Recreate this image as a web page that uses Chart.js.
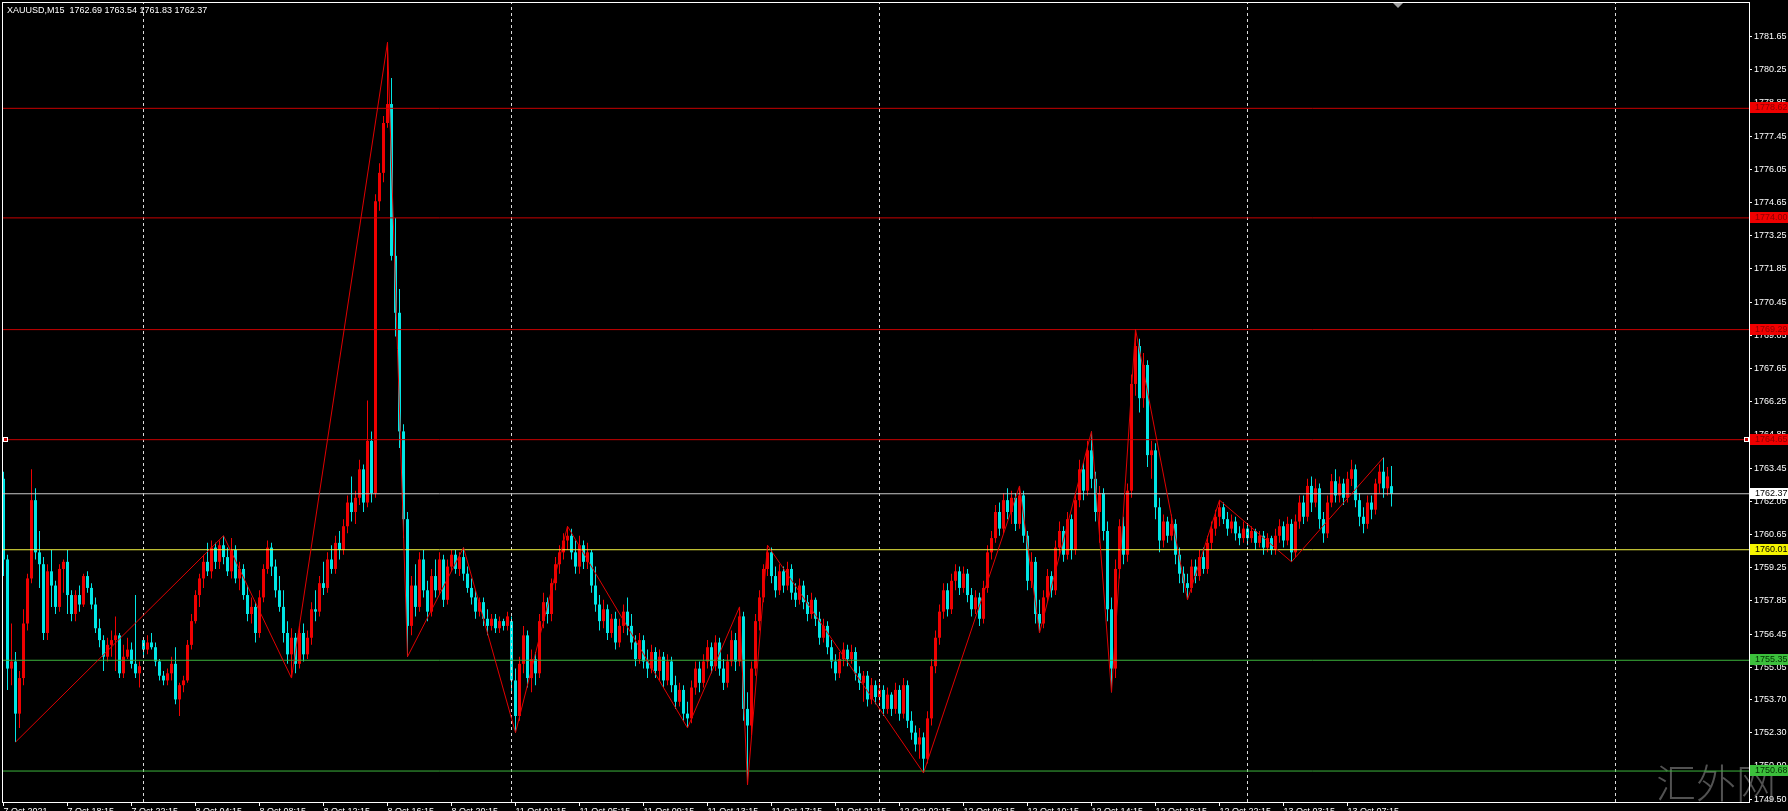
<!DOCTYPE html>
<html><head><meta charset="utf-8">
<style>html,body{margin:0;padding:0;background:#000;overflow:hidden}canvas{display:block}</style>
<script src="https://cdn.jsdelivr.net/npm/chart.js@4.4.1/dist/chart.umd.min.js"></script>
</head><body>
<canvas id="c" width="1788" height="811" style="width:1788px;height:811px"></canvas>
<script>
const symbolTitle = "XAUUSD,M15  1762.69 1763.54 1761.83 1762.37";

const opens = [
1763.0,1759.6,1755.0,1755.3,1753.1,1754.6,1756.9,1758.8,1762.1,1759.9,
1759.4,1756.5,1759.1,1758.5,1757.6,1759.2,1759.5,1758.1,1757.3,1758.1,
1757.7,1758.9,1758.4,1757.7,1756.7,1756.2,1755.5,1756.0,1756.2,1756.4,
1754.8,1755.5,1755.8,1755.2,1754.8,1756.2,1755.8,1756.1,1755.9,1755.3,
1754.7,1754.5,1754.8,1755.2,1753.7,1754.3,1754.5,1756.0,1757.0,1758.1,
1758.8,1759.5,1759.1,1760.1,1759.5,1760.2,1759.7,1759.1,1760.0,1758.8,
1759.2,1758.1,1757.3,1757.6,1756.5,1758.0,1759.2,1760.1,1759.3,1758.3,
1757.6,1756.5,1755.6,1756.3,1755.2,1756.5,1755.6,1756.3,1757.5,1757.4,
1758.6,1758.4,1759.6,1759.2,1760.3,1760.0,1761.0,1762.0,1761.6,1762.2,
1763.4,1762.0,1764.6,1762.4,1774.7,1775.9,1778.0,1778.8,1772.4,1770.0,
1765.0,1761.3,1756.8,1758.5,1757.6,1759.6,1758.3,1757.4,1758.9,1758.3,
1759.6,1757.9,1759.3,1759.8,1759.2,1759.7,1759.0,1758.4,1758.0,1757.4,
1757.8,1757.1,1756.8,1757.1,1756.7,1757.0,1756.8,1757.0,1754.5,1753.0,
1755.2,1756.4,1754.6,1755.4,1754.8,1757.0,1757.8,1757.3,1758.6,1759.4,
1759.9,1760.4,1760.6,1759.9,1759.3,1760.2,1759.5,1759.9,1758.5,1757.7,
1757.0,1757.5,1756.5,1757.1,1756.1,1756.8,1757.4,1756.8,1756.1,1755.4,
1756.2,1755.3,1755.0,1755.7,1754.9,1755.5,1754.5,1755.3,1754.3,1753.6,
1754.1,1753.1,1752.9,1754.2,1755.0,1754.4,1755.3,1755.9,1755.1,1756.1,
1755.0,1754.4,1755.3,1756.2,1755.3,1757.2,1753.3,1752.6,1755.0,1757.0,
1758.0,1759.2,1759.9,1758.9,1758.3,1759.1,1758.5,1759.2,1758.2,1757.9,
1758.5,1757.8,1757.3,1757.9,1757.1,1756.3,1756.8,1755.9,1755.3,1754.8,
1755.4,1755.8,1755.4,1755.7,1754.8,1754.4,1754.7,1753.7,1754.3,1753.8,
1754.1,1753.3,1753.9,1753.3,1754.1,1753.1,1754.3,1752.8,1752.3,1751.8,
1752.1,1751.2,1752.9,1755.1,1756.3,1757.4,1758.3,1757.5,1758.7,1759.1,
1758.4,1759.0,1758.1,1757.5,1758.0,1757.1,1758.4,1759.9,1760.5,1761.6,
1760.9,1762.1,1761.6,1762.2,1761.1,1762.3,1760.6,1758.7,1759.5,1757.3,
1756.9,1758.0,1758.9,1758.3,1760.1,1760.8,1759.8,1761.3,1760.0,1762.1,
1763.4,1762.5,1764.2,1763.0,1761.6,1762.4,1760.8,1757.5,1755.0,1759.2,
1761.0,1759.8,1762.5,1767.0,1768.6,1766.4,1767.8,1764.0,1764.2,1761.8,
1760.4,1761.2,1760.6,1761.1,1759.8,1759.0,1758.6,1758.4,1759.3,1758.9,
1759.7,1759.2,1760.3,1760.9,1761.4,1761.8,1761.3,1760.9,1761.2,1760.7,
1760.5,1760.9,1760.5,1760.8,1760.3,1760.6,1760.1,1760.5,1760.0,1760.6,
1761.0,1760.4,1761.1,1759.9,1761.2,1762.0,1761.4,1762.7,1762.0,1762.6,
1761.3,1760.7,1762.0,1762.9,1762.3,1762.8,1762.2,1763.0,1763.4,1762.1,
1761.4,1761.1,1762.0,1761.7,1762.8,1763.3,1762.6,1762.69];

const highs = [
1763.3,1759.8,1756.9,1755.7,1754.9,1757.5,1759.0,1763.4,1762.6,1760.8,
1759.7,1759.4,1760.0,1758.7,1759.4,1759.6,1760.0,1758.3,1758.3,1758.5,
1759.0,1759.1,1758.6,1758.0,1757.1,1756.4,1756.3,1756.6,1757.2,1756.5,
1756.0,1756.3,1756.1,1758.1,1755.3,1756.3,1756.4,1756.5,1756.1,1755.4,
1754.9,1755.0,1755.5,1755.9,1754.4,1754.7,1756.2,1757.3,1758.3,1759.0,
1759.8,1760.3,1760.4,1760.3,1760.4,1760.6,1760.1,1760.5,1760.2,1759.5,
1759.4,1758.5,1758.0,1757.8,1758.3,1759.4,1760.4,1760.3,1759.6,1758.9,
1758.3,1757.0,1756.7,1756.5,1756.8,1756.9,1756.6,1757.8,1758.3,1758.9,
1759.5,1759.9,1760.2,1760.6,1760.8,1761.3,1762.3,1763.1,1762.5,1763.8,
1763.6,1766.3,1765.0,1775.0,1776.3,1778.3,1781.4,1779.9,1774.0,1771.0,
1765.3,1761.6,1758.9,1759.4,1759.9,1760.0,1758.7,1759.2,1759.6,1759.9,
1759.8,1759.6,1760.0,1760.0,1759.9,1760.1,1759.3,1758.8,1758.3,1758.0,
1758.0,1757.5,1757.3,1757.3,1757.2,1757.1,1757.4,1757.2,1755.0,1755.5,
1756.8,1756.6,1755.8,1755.7,1757.3,1758.2,1758.0,1758.8,1759.7,1760.2,
1760.7,1761.0,1760.9,1760.4,1760.6,1760.4,1760.3,1760.0,1759.3,1758.1,
1757.9,1757.7,1757.3,1757.4,1757.1,1757.7,1758.0,1757.3,1756.4,1756.5,
1756.4,1755.8,1756.0,1755.9,1755.8,1755.7,1755.6,1755.5,1754.7,1754.4,
1754.3,1753.6,1754.5,1755.3,1755.3,1755.6,1756.2,1756.1,1756.4,1756.3,
1755.4,1755.6,1756.6,1756.5,1757.6,1757.4,1754.0,1755.3,1757.3,1758.3,
1759.4,1760.2,1760.1,1759.3,1759.4,1759.3,1759.5,1759.4,1758.6,1758.8,
1758.7,1758.1,1758.2,1758.0,1757.4,1757.1,1757.0,1756.2,1755.6,1755.7,
1756.1,1756.0,1756.0,1755.9,1755.1,1754.9,1754.9,1754.6,1754.5,1754.4,
1754.3,1754.2,1754.0,1754.4,1754.3,1754.6,1754.5,1753.2,1752.6,1752.5,
1752.3,1753.2,1755.4,1756.6,1757.7,1758.6,1758.6,1759.0,1759.4,1759.3,
1759.3,1759.2,1758.4,1758.3,1758.2,1758.7,1760.2,1760.8,1761.9,1762.0,
1762.4,1762.6,1762.5,1762.4,1762.7,1762.5,1760.8,1759.9,1759.7,1757.9,
1758.3,1759.2,1759.1,1760.4,1761.2,1761.0,1761.6,1761.5,1762.4,1763.8,
1763.7,1764.6,1765.0,1763.3,1762.7,1762.6,1761.2,1758.0,1759.6,1761.3,
1761.4,1762.8,1767.4,1769.3,1768.9,1768.3,1768.0,1764.6,1764.5,1762.2,
1761.5,1761.4,1761.5,1761.3,1760.1,1759.3,1759.0,1759.6,1759.6,1760.0,
1760.1,1760.6,1761.2,1761.7,1762.1,1762.0,1761.6,1761.5,1761.4,1761.0,
1761.2,1761.1,1761.0,1760.9,1760.8,1760.8,1760.7,1760.6,1760.9,1761.3,
1761.2,1761.4,1761.3,1761.5,1762.3,1762.3,1763.0,1763.1,1763.0,1762.8,
1761.6,1762.3,1763.2,1763.4,1763.1,1763.0,1763.3,1763.8,1763.6,1762.4,
1761.8,1762.3,1762.3,1763.0,1763.6,1763.9,1763.5,1763.54];

const lows = [
1758.9,1754.1,1754.3,1751.9,1752.5,1754.3,1756.6,1758.6,1759.6,1758.4,
1756.2,1756.2,1757.6,1757.3,1757.4,1758.2,1757.3,1757.0,1757.0,1757.4,
1757.6,1758.2,1757.5,1756.5,1755.9,1754.9,1755.3,1755.5,1754.9,1754.6,
1754.6,1755.4,1755.0,1754.6,1754.2,1755.5,1755.6,1755.8,1755.1,1754.5,
1754.3,1754.3,1754.5,1753.5,1753.0,1754.0,1754.4,1755.8,1756.9,1757.6,
1758.4,1758.9,1758.8,1759.2,1759.2,1759.4,1758.9,1758.8,1758.6,1758.3,
1757.9,1757.0,1756.9,1756.1,1756.3,1757.8,1759.0,1758.9,1758.0,1757.4,
1756.1,1755.2,1754.6,1754.8,1755.0,1755.3,1755.4,1756.0,1757.0,1757.2,
1758.1,1758.2,1759.0,1759.0,1759.6,1759.8,1760.7,1761.2,1761.1,1761.9,
1761.6,1761.8,1762.0,1762.2,1774.3,1775.5,1777.8,1772.2,1769.0,1764.3,
1760.5,1755.5,1756.4,1757.2,1757.4,1758.0,1757.0,1757.2,1758.0,1758.1,
1757.6,1757.7,1759.1,1759.0,1758.9,1758.7,1758.2,1757.7,1757.1,1757.2,
1756.8,1756.4,1756.6,1756.5,1756.5,1756.6,1756.6,1754.0,1752.3,1752.8,
1754.8,1754.2,1754.0,1754.3,1754.6,1756.7,1756.9,1757.0,1758.3,1759.0,
1759.6,1760.0,1759.6,1759.0,1759.0,1759.2,1759.2,1758.2,1757.4,1756.6,
1756.7,1756.2,1756.3,1755.8,1755.9,1756.5,1756.4,1755.8,1755.1,1755.2,
1755.0,1754.6,1754.8,1754.6,1754.5,1754.2,1754.3,1754.0,1753.3,1753.4,
1752.8,1752.5,1752.7,1753.9,1754.0,1754.2,1755.0,1754.8,1754.9,1754.7,
1754.1,1754.2,1755.1,1754.9,1755.1,1752.8,1750.1,1752.2,1754.7,1756.6,
1757.8,1758.9,1758.6,1758.0,1758.1,1758.2,1758.3,1757.9,1757.6,1757.7,
1757.5,1757.0,1757.1,1756.8,1756.0,1756.1,1755.6,1755.0,1754.5,1754.6,
1755.1,1755.1,1755.2,1754.5,1754.1,1753.6,1753.4,1753.5,1753.5,1753.5,
1753.0,1753.1,1753.0,1753.1,1752.8,1752.9,1752.5,1752.0,1751.5,1751.2,
1750.6,1751.0,1752.6,1754.8,1756.0,1757.1,1757.2,1757.3,1758.3,1758.1,
1758.2,1757.8,1757.2,1757.3,1756.8,1756.9,1758.2,1759.6,1760.3,1760.6,
1760.7,1761.3,1761.1,1760.8,1760.9,1760.3,1758.3,1758.4,1756.9,1756.5,
1756.7,1757.8,1758.0,1758.1,1759.8,1759.5,1759.6,1759.6,1759.8,1761.8,
1762.1,1762.3,1762.6,1761.2,1760.3,1760.4,1757.0,1754.0,1754.6,1758.8,
1759.4,1759.5,1762.2,1766.5,1765.8,1766.0,1763.5,1763.0,1761.3,1759.9,
1760.1,1760.3,1760.4,1759.4,1758.6,1758.2,1757.9,1758.2,1758.6,1758.7,
1759.0,1759.0,1760.0,1760.6,1761.0,1761.1,1760.6,1760.7,1760.4,1760.2,
1760.3,1760.2,1760.3,1760.0,1760.1,1759.8,1759.9,1759.8,1759.8,1760.3,
1760.1,1760.2,1759.5,1759.7,1760.9,1761.1,1761.2,1761.6,1761.8,1760.9,
1760.3,1760.5,1761.8,1762.0,1762.0,1761.9,1762.0,1762.7,1761.8,1761.0,
1760.7,1760.9,1761.3,1761.5,1762.4,1762.2,1762.3,1761.83];

const closes = [
1759.6,1755.0,1755.3,1753.1,1754.6,1756.9,1758.8,1762.1,1759.9,1759.4,
1756.5,1759.1,1758.5,1757.6,1759.2,1759.5,1758.1,1757.3,1758.1,1757.7,
1758.9,1758.4,1757.7,1756.7,1756.2,1755.5,1756.0,1756.2,1756.4,1754.8,
1755.5,1755.8,1755.2,1754.8,1755.1,1755.8,1756.1,1755.9,1755.3,1754.7,
1754.5,1754.8,1755.2,1753.7,1754.3,1754.5,1756.0,1757.0,1758.1,1758.8,
1759.5,1759.1,1760.1,1759.5,1760.2,1759.7,1759.1,1760.0,1758.8,1759.2,
1758.1,1757.3,1757.6,1756.5,1758.0,1759.2,1760.1,1759.3,1758.3,1757.6,
1756.5,1755.6,1756.3,1755.2,1756.5,1755.6,1756.3,1757.5,1757.4,1758.6,
1758.4,1759.6,1759.2,1760.3,1760.0,1761.0,1762.0,1761.6,1762.2,1763.4,
1762.0,1764.6,1762.4,1774.7,1775.9,1778.0,1778.8,1772.4,1770.0,1765.0,
1761.3,1756.8,1758.5,1757.6,1759.6,1758.3,1757.4,1758.9,1758.3,1759.6,
1757.9,1759.3,1759.8,1759.2,1759.7,1759.0,1758.4,1758.0,1757.4,1757.8,
1757.1,1756.8,1757.1,1756.7,1757.0,1756.8,1757.2,1754.5,1753.0,1755.2,
1756.4,1754.6,1755.4,1754.8,1757.0,1757.8,1757.3,1758.6,1759.4,1759.9,
1760.4,1760.6,1759.9,1759.3,1760.2,1759.5,1759.9,1758.5,1757.7,1757.0,
1757.5,1756.5,1757.1,1756.1,1756.8,1757.4,1756.8,1756.1,1755.4,1756.2,
1755.3,1755.0,1755.7,1754.9,1755.5,1754.5,1755.3,1754.3,1753.6,1754.1,
1753.1,1752.9,1754.2,1755.0,1754.4,1755.3,1755.9,1755.1,1756.1,1755.0,
1754.4,1755.3,1756.2,1755.3,1757.2,1753.3,1752.6,1755.0,1757.0,1758.0,
1759.2,1759.9,1758.9,1758.3,1759.1,1758.5,1759.2,1758.2,1757.9,1758.5,
1757.8,1757.3,1757.9,1757.1,1756.3,1756.8,1755.9,1755.3,1754.8,1755.4,
1755.8,1755.4,1755.7,1754.8,1754.4,1754.7,1753.7,1754.3,1753.8,1754.1,
1753.3,1753.9,1753.3,1754.1,1753.1,1754.3,1752.8,1752.3,1751.8,1752.1,
1751.2,1752.9,1755.1,1756.3,1757.4,1758.3,1757.5,1758.7,1759.1,1758.4,
1759.0,1758.1,1757.5,1758.0,1757.1,1758.4,1759.9,1760.5,1761.6,1760.9,
1762.1,1761.6,1762.2,1761.1,1762.3,1760.6,1758.7,1759.5,1757.3,1756.9,
1758.0,1758.9,1758.3,1760.1,1760.8,1759.8,1761.3,1760.0,1762.1,1763.4,
1762.5,1764.2,1763.0,1761.6,1762.4,1760.8,1757.5,1755.0,1759.2,1761.0,
1759.8,1762.5,1767.0,1768.6,1766.4,1767.8,1764.0,1764.2,1761.8,1760.4,
1761.2,1760.6,1761.1,1759.8,1759.0,1758.6,1758.4,1759.3,1758.9,1759.7,
1759.2,1760.3,1760.9,1761.4,1761.8,1761.3,1760.9,1761.2,1760.7,1760.5,
1760.9,1760.5,1760.8,1760.3,1760.6,1760.1,1760.5,1760.0,1760.6,1761.0,
1760.4,1761.1,1759.9,1761.2,1762.0,1761.4,1762.7,1762.0,1762.6,1761.3,
1760.7,1762.0,1762.9,1762.3,1762.8,1762.2,1763.0,1763.4,1762.1,1761.4,
1761.1,1762.0,1761.7,1762.8,1763.3,1762.6,1763.1,1762.37];

const timeTickBars = [0,16,32,48,64,80,96,112,128,144,160,176,192,208,224,240,256,272,288,304,320,336];
const timeTickLabels = ["7 Oct 2021","7 Oct 18:15","7 Oct 22:15","8 Oct 04:15","8 Oct 08:15","8 Oct 12:15","8 Oct 16:15","8 Oct 20:15","11 Oct 01:15","11 Oct 05:15","11 Oct 09:15","11 Oct 13:15","11 Oct 17:15","11 Oct 21:15","12 Oct 02:15","12 Oct 06:15","12 Oct 10:15","12 Oct 14:15","12 Oct 18:15","12 Oct 22:15","13 Oct 03:15","13 Oct 07:15"];

const priceTicks = [1781.65,1780.25,1778.85,1777.45,1776.05,1774.65,1773.25,1771.85,1770.45,1769.05,1767.65,1766.25,1764.85,1763.45,1762.05,1760.65,1759.25,1757.85,1756.45,1755.05,1753.70,1752.30,1750.90,1749.50];

const separatorBars = [35,127,219,311,403];

const levelPrices = [1778.62,1774.00,1769.29,1764.65,1762.37,1760.01,1755.35,1750.68];
const levelKinds  = ["red","red","red","red","bid","yellow","green","green"];

const zigzagBars   = [3,55,72,96,101,115,128,141,171,184,186,191,230,254,259,272,277,283,296,304,322,345];
const zigzagPrices = [1751.9,1760.6,1754.6,1781.4,1755.5,1760.1,1752.3,1761.0,1752.5,1757.6,1750.1,1760.2,1750.6,1762.7,1756.5,1765.0,1754.0,1769.3,1757.9,1762.1,1759.5,1763.9];

const watermarkText = "汇外网";

/* ---------- styling ---------- */
const UP = '#f00000', DOWN = '#00e6e6';
const LEVEL_STYLE = {
  red:    {line:'#c80000', box:'#f00000', text:'#8a0000'},
  bid:    {line:'#c8c8c8', box:'#ffffff', text:'#000000'},
  yellow: {line:'#f4f442', box:'#f4f400', text:'#000000'},
  green:  {line:'#3cb43c', box:'#3cc03c', text:'#003000'}
};
const FONT = '"Liberation Sans", Arial, sans-serif';
const X_MIN = -0.125, X_MAX = 436.375;
const Y_MIN = 1749.375, Y_MAX = 1783.06;

const idx = closes.map((_, i) => i);
const candleColor = c => closes[c.dataIndex] >= opens[c.dataIndex] ? UP : DOWN;

const datasets = [
  {type:'bar', label:'wick', data: idx.map(i => ({x:i, y:[lows[i], highs[i]]})),
   backgroundColor: candleColor, barThickness:1, grouped:false, inflateAmount:0, borderWidth:0, order:10},
  {type:'bar', label:'body', data: idx.map(i => ({x:i, y:[opens[i], closes[i]]})),
   backgroundColor: candleColor, barThickness:3, minBarLength:1, grouped:false, inflateAmount:0, borderWidth:0, order:9}
];
separatorBars.forEach(b => datasets.push({type:'line', label:'sep', data:[{x:b,y:Y_MIN},{x:b,y:Y_MAX}],
  borderColor:'#dcdcdc', borderWidth:1, borderDash:[3,3], pointRadius:0, order:5}));
levelPrices.forEach((p,k) => datasets.push({type:'line', label:'lvl', data:[{x:X_MIN,y:p},{x:X_MAX,y:p}],
  borderColor: LEVEL_STYLE[levelKinds[k]].line, borderWidth:1, pointRadius:0, order:3}));
datasets.push({type:'line', label:'zigzag', data: zigzagBars.map((b,k) => ({x:b, y:zigzagPrices[k]})),
  borderColor:'#e00000', borderWidth:1, pointRadius:0, tension:0, order:2});

const overlay = {
  id:'mt4overlay',
  beforeDatasetsDraw(chart){
    const ctx = chart.ctx;
    ctx.save();
    ctx.fillStyle = 'rgba(150,150,150,0.55)';
    ctx.font = '300 40px "Noto Sans CJK SC"';
    ctx.textBaseline = 'alphabetic';
    ctx.fillText(watermarkText, 1656, 798);
    ctx.restore();
  },
  afterDraw(chart){
    const {ctx, chartArea:a} = chart;
    const y = chart.scales.y;
    ctx.save();
    ctx.strokeStyle = '#ffffff'; ctx.lineWidth = 1;
    ctx.strokeRect(a.left - 0.5, a.top - 0.5, a.right - a.left + 1, a.bottom - a.top + 1);
    ctx.fillStyle = '#ffffff';
    ctx.font = '9px ' + FONT;
    ctx.textBaseline = 'top';
    ctx.fillText(symbolTitle, 7, 6);
    // chart shift marker
    ctx.fillStyle = '#a0a0a0';
    ctx.beginPath(); ctx.moveTo(1393, 3); ctx.lineTo(1403, 3); ctx.lineTo(1398, 8); ctx.closePath(); ctx.fill();
    // level price boxes
    levelPrices.forEach((p,k) => {
      const st = LEVEL_STYLE[levelKinds[k]];
      const yy = Math.round(y.getPixelForValue(p));
      ctx.fillStyle = st.box;
      ctx.fillRect(a.right + 1, yy - 6, 40, 11);
      ctx.fillStyle = st.text;
      ctx.textBaseline = 'middle';
      ctx.fillText(p.toFixed(2), a.right + 6, yy - 0.5);
      if (k === 3) {
        [a.left, a.right - 5].forEach(px => {
          ctx.fillStyle = '#ffffff'; ctx.fillRect(px, yy - 3, 5, 5);
          ctx.fillStyle = '#c80000'; ctx.fillRect(px + 1, yy - 2, 3, 3);
        });
      }
    });
    ctx.restore();
  }
};

new Chart(document.getElementById('c'), {
  type:'bar',
  data:{datasets},
  options:{
    responsive:false, animation:false, events:[], devicePixelRatio:1,
    layout:{padding:{left:3, top:3, right:0, bottom:0}, autoPadding:false},
    plugins:{legend:{display:false}, tooltip:{enabled:false}},
    scales:{
      x:{type:'linear', position:'bottom', min:X_MIN, max:X_MAX, offset:false,
         grid:{display:true, drawOnChartArea:false, drawTicks:true, tickLength:4, tickColor:'#ffffff', offset:false, color:'#ffffff'},
         border:{display:true, color:'#ffffff', width:1},
         ticks:{color:'#ffffff', font:{family:FONT, size:9}, align:'start', padding:0, autoSkip:false, maxRotation:0, minRotation:0,
                callback:(v) => { const k = timeTickBars.indexOf(v); return k >= 0 ? timeTickLabels[k] : ''; }},
         afterBuildTicks: s => { s.ticks = timeTickBars.map(v => ({value:v})); },
         afterFit: s => { s.height = 9; s.paddingLeft = 0; s.paddingRight = 0; s.paddingTop = 0; s.paddingBottom = 0; }
      },
      y:{type:'linear', position:'right', min:Y_MIN, max:Y_MAX, beginAtZero:false,
         grid:{display:true, drawOnChartArea:false, drawTicks:true, tickLength:3, tickColor:'#ffffff', color:'#ffffff'},
         border:{display:true, color:'#ffffff', width:1},
         ticks:{color:'#ffffff', font:{family:FONT, size:9}, padding:2, autoSkip:false,
                callback:(v) => Number(v).toFixed(2)},
         afterBuildTicks: s => { s.ticks = priceTicks.map(v => ({value:v})); },
         afterFit: s => { s.width = 39; s.paddingLeft = 0; s.paddingRight = 0; s.paddingTop = 0; s.paddingBottom = 0; }
      }
    }
  },
  plugins:[overlay]
});
</script>
</body></html>
